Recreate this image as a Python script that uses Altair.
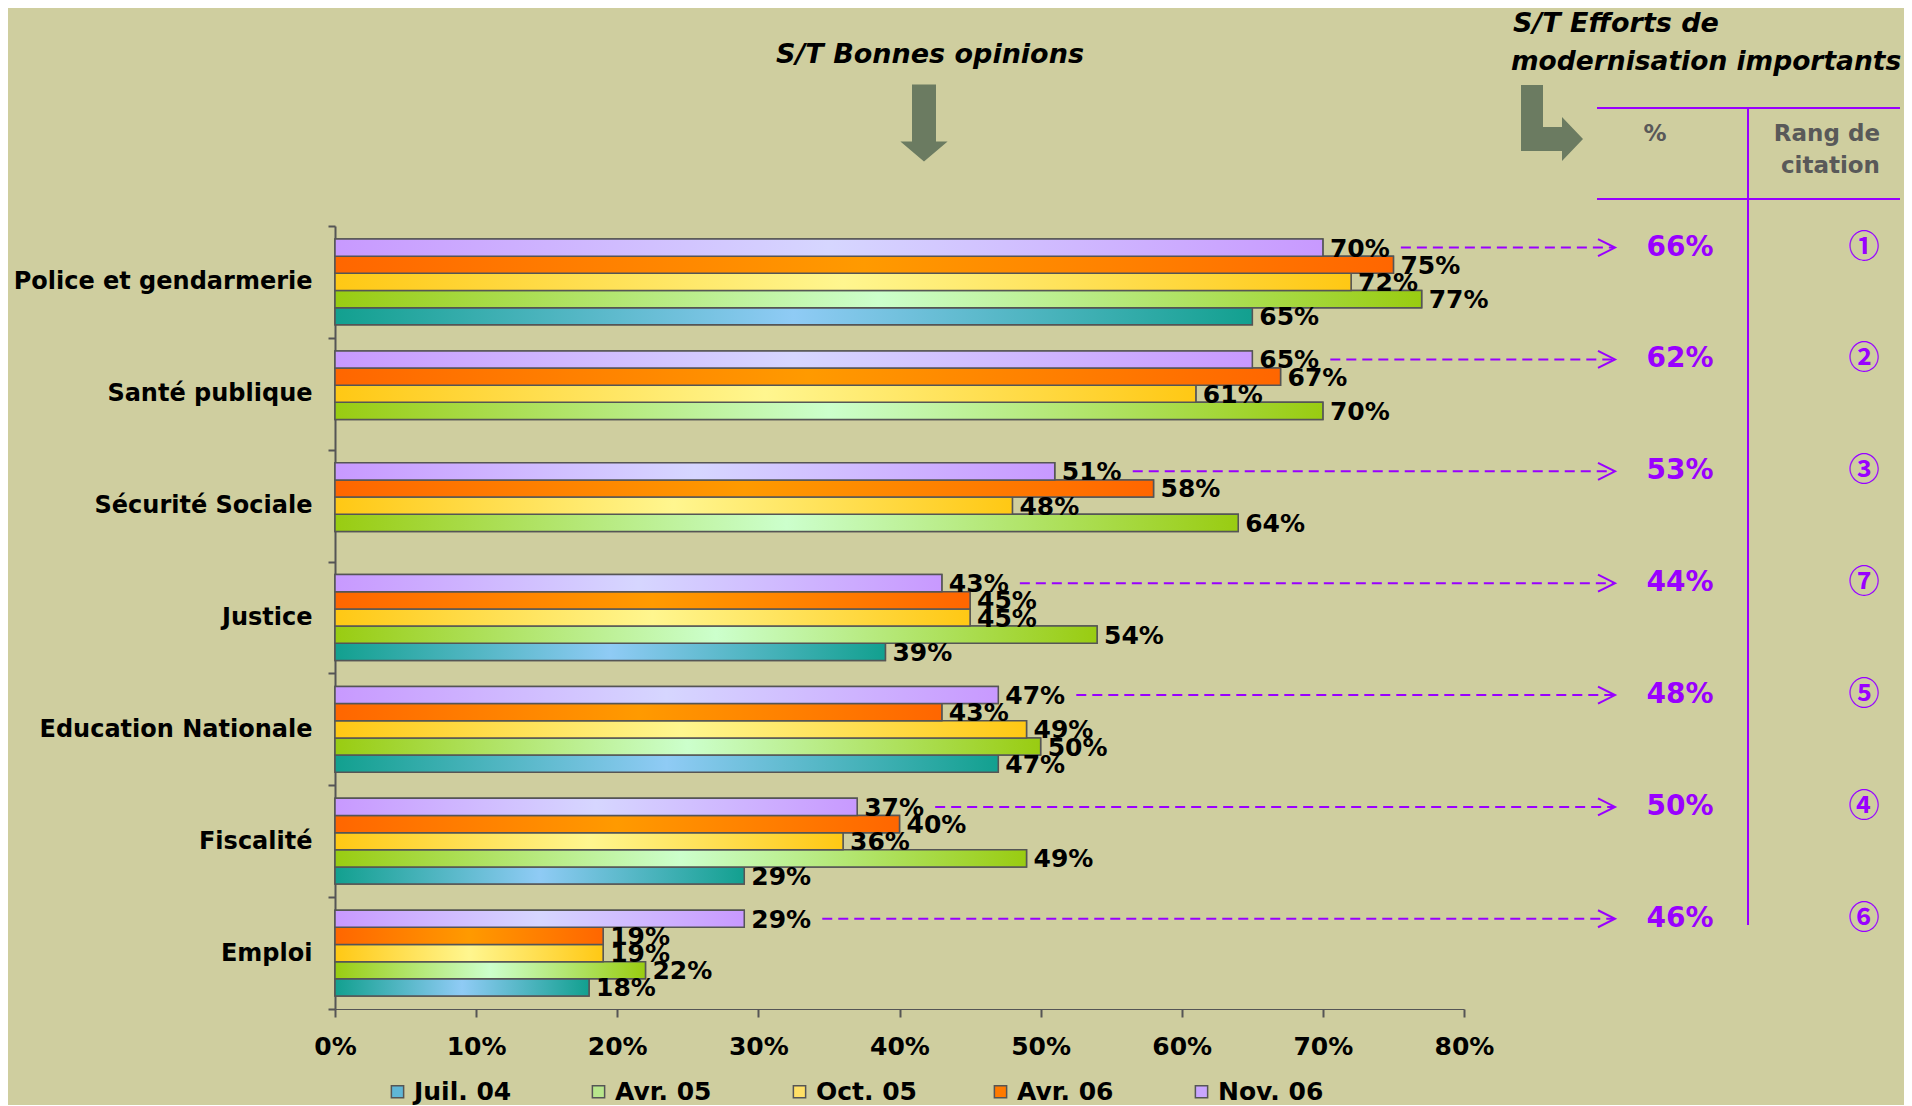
import altair as alt
import pandas as pd

# ---------------- data ----------------
categories = ["Police et gendarmerie", "Santé publique", "Sécurité Sociale", "Justice",
              "Education Nationale", "Fiscalité", "Emploi"]
series = ["Juil. 04", "Avr. 05", "Oct. 05", "Avr. 06", "Nov. 06"]
juil04 = [65, None, None, 39, 47, 29, 18]
avr05 = [77, 70, 64, 54, 50, 49, 22]
oct05 = [72, 61, 48, 45, 49, 36, 19]
avr06 = [75, 67, 58, 45, 43, 40, 19]
nov06 = [70, 65, 51, 43, 47, 37, 29]
efforts_pct = [66, 62, 53, 44, 48, 50, 46]
efforts_rank = ["①", "②", "③", "⑦", "⑤", "④", "⑥"]
x_ticks = [0, 10, 20, 30, 40, 50, 60, 70, 80]

# ---------------- styles ----------------
BG = "#CFCE9F"
PURPLE = "#9900FF"
ARROW = "#6B7B61"
legend_colors = ["#5FB6D6", "#B8E68C", "#FFE066", "#FF7A00", "#C9A6FF"]
edge_colors = ["#12A08F", "#99CC11", "#FFC814", "#FF6600", "#C899FF"]
center_colors = ["#8FCBF5", "#CCFFCC", "#FFF68F", "#FF9A00", "#D6D6FF"]
offset_order = ["Nov. 06", "Avr. 06", "Oct. 05", "Avr. 05", "Juil. 04"]
FONT = "DejaVu Sans"

columns = [juil04, avr05, oct05, avr06, nov06]
rows = []
for s, vals in zip(series, columns):
    for c, v in zip(categories, vals):
        if v is not None:
            rows.append({"category": c, "series": s, "value": v, "label": f"{v}%"})
df = pd.DataFrame(rows)

ann = pd.DataFrame({
    "category": categories,
    "series": ["Nov. 06"] * len(categories),
    "value": nov06,
    "pct": [f"{p}%" for p in efforts_pct],
    "rank": efforts_rank,
})
one = pd.DataFrame({"k": [0]})

# ---------------- encodings ----------------
Y = alt.Y("category:N", sort=categories,
          scale=alt.Scale(domain=categories, range=[218, 1001], paddingInner=0, paddingOuter=0),
          axis=alt.Axis(title=None, offset=-327, tickBand="extent", tickSize=7, labelPadding=16,
                        labelLimit=500, labelFontSize=24, domainWidth=2))
YO = alt.YOffset("series:N", sort=offset_order,
                 scale=alt.Scale(domain=offset_order, paddingInner=0, paddingOuter=0.76))
X = alt.X("value:Q",
          scale=alt.Scale(domain=[0, 80], range=[327, 1456], nice=False, zero=True),
          axis=alt.Axis(title=None, values=x_ticks, labelExpr="datum.value + '%'", grid=False,
                        tickSize=8, labelPadding=17, labelFontSize=25, labelFlush=False))

base = alt.Chart(df).mark_bar(stroke="#555555", strokeWidth=1.5).encode(
    x=X, y=Y, yOffset=YO,
    color=alt.Color("series:N", sort=series,
                    scale=alt.Scale(domain=series, range=legend_colors),
                    legend=alt.Legend(title=None, orient="none", legendX=377, legendY=1071,
                                      direction="horizontal", columns=5, gridAlign="all",
                                      columnPadding=66, symbolType="square", symbolSize=150,
                                      symbolStrokeColor="#555555", symbolStrokeWidth=1.5,
                                      labelFont=FONT, labelFontWeight="bold", labelFontSize=25,
                                      labelColor="black", labelOffset=4)),
)

layers = [base]
for s, e, c in zip(series, edge_colors, center_colors):
    grad = {"gradient": "linear", "x1": 0, "x2": 1, "y1": 0, "y2": 0,
            "stops": [{"offset": 0, "color": e}, {"offset": 0.5, "color": c},
                      {"offset": 1, "color": e}]}
    layers.append(
        alt.Chart(df).transform_filter(alt.datum.series == s)
        .mark_bar(fill=grad, stroke="#555555", strokeWidth=1.5)
        .encode(x=X, y=Y, yOffset=YO)
    )

labels = alt.Chart(df).mark_text(align="left", baseline="middle", dx=7, dy=1, font=FONT,
                                 fontWeight="bold", fontSize=25, color="black").encode(
    x=X, y=Y, yOffset=YO, text="label:N")
layers.append(labels)

arrows = alt.Chart(ann).mark_rule(color=PURPLE, strokeWidth=2, strokeDash=[10, 6],
                                  xOffset=78, yOffset=-5).encode(
    x=X, x2=alt.value(1606), y=Y, yOffset=YO)
heads = alt.Chart(ann).mark_point(shape="M-2,-1L0,0L-2,1", filled=False, size=289,
                                  stroke=PURPLE, strokeWidth=2, opacity=1).encode(
    x=alt.value(1607), y=Y, yOffset=YO)
pct = alt.Chart(ann).mark_text(align="center", baseline="middle", font=FONT, fontWeight="bold",
                               fontSize=28, color=PURPLE).encode(
    x=alt.value(1672), y=Y, yOffset=YO, text="pct:N")
rank = alt.Chart(ann).mark_text(align="center", baseline="middle", font="Noto Sans CJK JP",
                                fontWeight="bold", fontSize=31, color=PURPLE).encode(
    x=alt.value(1856), y=Y, yOffset=YO, text="rank:N")
layers += [arrows, heads, pct, rank]

# table lines
tline = dict(color=PURPLE, strokeWidth=2)
layers.append(alt.Chart(one).mark_rule(**tline).encode(x=alt.value(1589), x2=alt.value(1892), y=alt.value(100)))
layers.append(alt.Chart(one).mark_rule(**tline).encode(x=alt.value(1589), x2=alt.value(1892), y=alt.value(191)))
layers.append(alt.Chart(one).mark_rule(**tline).encode(x=alt.value(1740), y=alt.value(100), y2=alt.value(917)))

# headers and titles
def txt(t, x, y, size, align="center", style="normal", color="black"):
    return alt.Chart(one).mark_text(text=t, align=align, baseline="middle", font=FONT,
                                    fontWeight="bold", fontStyle=style, fontSize=size,
                                    color=color).encode(x=alt.value(x), y=alt.value(y))

layers.append(txt("%", 1647, 126, 23, color="#595959"))
layers.append(txt("Rang de", 1872, 126, 23, align="right", color="#595959"))
layers.append(txt("citation", 1872, 158, 23, align="right", color="#595959"))
layers.append(txt("S/T Bonnes opinions", 922, 47, 27, style="italic"))
layers.append(txt("S/T Efforts de", 1505, 16, 27, align="left", style="italic"))
layers.append(txt("modernisation importants", 1503, 54, 26.5, align="left", style="italic"))

# decorative arrows
down_path = "M-0.3,-0.96L0.3,-0.96L0.3,0.46L0.59,0.46L0,0.96L-0.59,0.46L-0.3,0.46Z"
elbow_path = ("M-0.775,-0.95L-0.225,-0.95L-0.225,0.1L0.25,0.1L0.25,-0.15L0.775,0.4"
              "L0.25,0.95L0.25,0.7L-0.775,0.7Z")
layers.append(alt.Chart(one).mark_point(shape=down_path, filled=True, size=6400, color=ARROW,
                                        opacity=1, strokeWidth=0).encode(
    x=alt.value(916), y=alt.value(115)))
layers.append(alt.Chart(one).mark_point(shape=elbow_path, filled=True, size=6400, color=ARROW,
                                        opacity=1, strokeWidth=0).encode(
    x=alt.value(1544), y=alt.value(115)))

chart = alt.layer(*layers).properties(
    width=1896, height=1001, background=BG,
    padding={"left": 0, "top": 0, "right": 0, "bottom": 96},
    autosize=alt.AutoSizeParams(type="none"),
).configure_view(stroke=None).configure_axis(
    domainColor="#555555", tickColor="#555555", tickWidth=2, labelFont=FONT,
    labelFontWeight="bold", labelColor="black", grid=False
)

chart.save("out.html", embed_options={"renderer": "svg", "actions": False})
